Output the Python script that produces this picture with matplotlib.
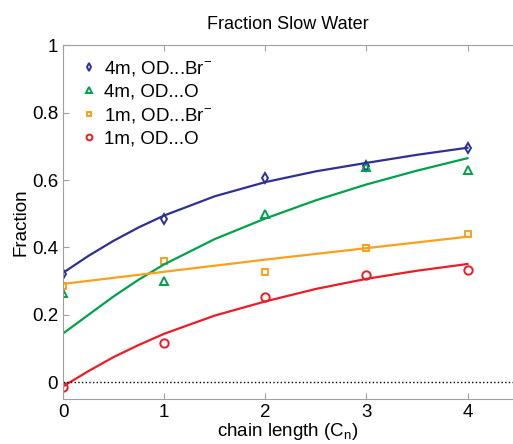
import matplotlib
matplotlib.use("Agg")
import matplotlib.pyplot as plt

plt.rcParams['font.family'] = ['Liberation Sans', 'DejaVu Sans']
plt.rcParams['mathtext.fontset'] = 'custom'
plt.rcParams['mathtext.rm'] = 'Liberation Sans'

# measured points
chain = [0, 1, 2, 3, 4]
br_4m = [0.322, 0.485, 0.607, 0.641, 0.696]
o_4m = [0.265, 0.302, 0.500, 0.639, 0.630]
br_1m = [0.285, 0.361, 0.328, 0.399, 0.440]
o_1m = [-0.013, 0.117, 0.254, 0.318, 0.334]

fit_x = [0, 0.25, 0.5, 0.75, 1, 1.5, 2, 2.5, 3, 3.5, 4]
fit_br_4m = [0.325, 0.375, 0.420, 0.460, 0.495, 0.552, 0.594, 0.626, 0.651, 0.675, 0.696]
fit_o_4m = [0.145, 0.200, 0.255, 0.305, 0.350, 0.425, 0.486, 0.540, 0.587, 0.628, 0.665]
fit_br_1m = [0.292, 0.301, 0.310, 0.319, 0.328, 0.346, 0.364, 0.381, 0.398, 0.415, 0.432]
fit_o_1m = [-0.012, 0.033, 0.075, 0.111, 0.144, 0.198, 0.240, 0.277, 0.307, 0.331, 0.351]

c_blue = '#2e3192'
c_green = '#00a14b'
c_orange = '#f9a11b'
c_red = '#ed1c24'

fig = plt.figure(figsize=(5.13, 4.44), dpi=100)
ax = fig.add_axes([0.123, 0.101, 0.877, 0.797])

mk = dict(linestyle='none', markerfacecolor='none', markeredgewidth=1.4)
ax.plot(chain, br_4m, 'd', color=c_blue, markersize=5.5, label='4m, OD...Br$^{-}$', **mk)
ax.plot(chain, o_4m, '^', color=c_green, markersize=6, label='4m, OD...O', **mk)
ax.plot(chain, br_1m, 's', color=c_orange, markersize=5, label='1m, OD...Br$^{-}$', **mk)
ax.plot(chain, o_1m, 'o', color=c_red, markersize=6, label='1m, OD...O', **mk)

ax.plot(fit_x, fit_br_4m, '-', color=c_blue, lw=1.6)
ax.plot(fit_x, fit_o_4m, '-', color=c_green, lw=1.6)
ax.plot(fit_x, fit_br_1m, '-', color=c_orange, lw=1.6)
ax.plot(fit_x, fit_o_1m, '-', color=c_red, lw=1.6)

ax.axhline(0, color='black', linestyle=':', lw=1)

ax.set_xlim(0, 4.45)
ax.set_ylim(-0.05, 1)
ax.set_xticks([0, 1, 2, 3, 4])
ax.set_yticks([0, 0.2, 0.4, 0.6, 0.8, 1])
ax.set_yticklabels(['0', '0.2', '0.4', '0.6', '0.8', '1'])
ax.tick_params(direction='in', top=True, right=False, labelsize=13.5, color='#a0a0a0', length=4)
for side in ['left', 'top', 'bottom']:
    ax.spines[side].set_color('#a0a0a0')
ax.spines['right'].set_visible(False)

ax.set_title('Fraction Slow Water', fontsize=13, pad=12)
ax.set_xlabel('chain length (C$_\\mathrm{n}$)', fontsize=13.5, labelpad=0)
ax.set_ylabel('Fraction', fontsize=13.5, labelpad=2)

ax.legend(loc='upper left', bbox_to_anchor=(0.0, 1.01), frameon=False, fontsize=13.5,
          handletextpad=0.3, labelspacing=0.3, handlelength=1.0, markerscale=0.7)

fig.savefig('out.png', dpi=100)
